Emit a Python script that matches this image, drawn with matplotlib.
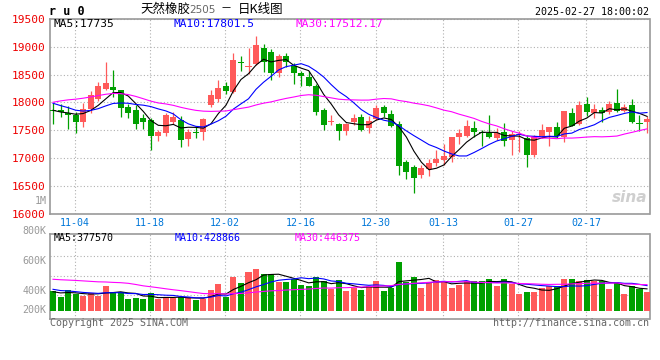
import numpy as np
import pandas as pd
import matplotlib
matplotlib.use('Agg')
import matplotlib.pyplot as plt

# daily candles, 2024-10-30 .. 2025-02-27
opens = [17865, 17860, 17810, 17770, 17650, 17887, 18054, 18238, 18268, 18214,
         17917, 17857, 17714, 17690, 17399, 17452, 17649, 17690, 17345, 17460,
         17470, 17946, 18054, 18286, 18184, 18710, 18640, 18690, 18976, 18910,
         18524, 18839, 18649, 18524, 18464, 18286, 17857, 17655, 17607, 17488,
         17643, 17738, 17530, 17708, 17917, 17786, 17619, 16935, 16834, 16697,
         16798, 16905, 16965, 17024, 17381, 17393, 17542, 17446, 17441, 17351,
         17460, 17328, 17412, 17357, 17060, 17387, 17465, 17548, 17369, 17804,
         17607, 17970, 17804, 17863, 17833, 17982, 17845, 17952, 17625, 17643]
highs = [17980, 17970, 17930, 17830, 17994, 18196, 18375, 18732, 18589, 18220,
         17964, 17946, 17786, 17726, 17500, 17810, 17827, 17762, 17512, 17572,
         17726, 18226, 18405, 18375, 18881, 18839, 18970, 19196, 19047, 18958,
         18869, 18887, 18702, 18571, 18559, 18333, 17905, 17768, 17631, 17631,
         17798, 17798, 17750, 17946, 17946, 17869, 17661, 16965, 16875, 16875,
         16977, 17143, 17250, 17385, 17512, 17690, 17667, 17500, 17768, 17530,
         17635, 17476, 17476, 17417, 17417, 17607, 17555, 17655, 17850, 17893,
         18024, 18101, 17964, 17911, 18024, 18238, 17964, 18060, 17774, 17762]
lows = [17610, 17740, 17520, 17450, 17560, 17810, 18030, 18214, 18095, 17738,
        17720, 17524, 17524, 17143, 17310, 17393, 17619, 17190, 17214, 17363,
        17322, 17917, 18006, 18155, 18173, 18571, 18512, 18672, 18541, 18405,
        18452, 18643, 18333, 18303, 18286, 17768, 17500, 17589, 17322, 17411,
        17589, 17488, 17453, 17690, 17738, 17548, 16697, 16620, 16370, 16631,
        16679, 16858, 16875, 16935, 17250, 17369, 17381, 17215, 17360, 17322,
        17220, 17048, 17100, 16834, 17012, 17357, 17209, 17357, 17286, 17566,
        17595, 17762, 17714, 17655, 17786, 17822, 17822, 17625, 17488, 17447]
closes = [17850, 17830, 17775, 17650, 17887, 18125, 18286, 18357, 18220, 17899,
          17810, 17613, 17649, 17399, 17464, 17768, 17738, 17327, 17464, 17452,
          17697, 18125, 18262, 18202, 18768, 18700, 18645, 19035, 18732, 18524,
          18839, 18720, 18524, 18470, 18303, 17827, 17589, 17661, 17488, 17619,
          17720, 17500, 17667, 17899, 17810, 17578, 16846, 16739, 16631, 16816,
          16905, 16983, 17036, 17381, 17441, 17578, 17470, 17440, 17369, 17441,
          17300, 17429, 17420, 17060, 17387, 17506, 17548, 17387, 17845, 17583,
          17952, 17822, 17881, 17804, 17970, 17845, 17923, 17655, 17615, 17702]
# volume in thousands of lots
volumes = [338, 235, 355, 281, 257, 298, 257, 424, 321, 321,
           201, 218, 201, 304, 196, 218, 218, 235, 235, 184,
           201, 355, 458, 230, 578, 470, 664, 715, 629, 629,
           492, 492, 539, 441, 424, 578, 509, 367, 527, 338,
           394, 355, 424, 509, 338, 384, 840, 487, 573, 394,
           480, 527, 509, 394, 441, 509, 509, 509, 544, 424,
           544, 453, 286, 321, 321, 394, 424, 424, 544, 544,
           509, 527, 509, 509, 372, 470, 286, 424, 372, 321]

# earlier sessions (off-screen), only used to seed the moving averages
prev_closes = [17100, 17200, 17300, 17350, 17450, 17550, 17650, 17750, 18030,
               18300, 18600, 18900, 18700, 18450, 18300, 18500, 18400, 18350, 18200, 18130,
               18250, 18150, 18100, 18050, 18005, 17980, 17860, 17770, 17825]
prev_volumes = [480, 520, 460, 500, 540, 490, 510, 530, 470, 520,
                820, 900, 780, 700, 760, 720, 680, 740, 700, 680,
                450, 420, 400, 390, 380, 340, 320, 310, 322]

tick_idx = [3, 13, 23, 33, 43, 52, 62, 71]
tick_labels = ['11-04', '11-18', '12-02', '12-16', '12-30', '01-13', '01-27', '02-17']
price_ticks = [16000, 16500, 17000, 17500, 18000, 18500, 19000, 19500]
vol_labels = ['800K', '600K', '400K', '200K']

RED = '#ff5a5a'
GREEN = '#00a000'
GRID = '#b0b0b0'
FRAME = '#999999'
MONO = 'DejaVu Sans Mono'
CJK = ['Noto Sans CJK SC', 'DejaVu Sans']

o = np.array(opens, float)
h = np.array(highs, float)
l = np.array(lows, float)
c = np.array(closes, float)
v = np.array(volumes, float) * 1000
n = len(c)
x = np.arange(n)
cols = np.where(c >= o, RED, GREEN)

cs = pd.Series(prev_closes + closes, dtype=float)
ma = {k: cs.rolling(k).mean().values[-n:] for k in (5, 10, 30)}
vs = pd.Series(prev_volumes + volumes, dtype=float) * 1000
vma = {k: vs.rolling(k).mean().values[-n:] for k in (5, 10, 30)}
ma_cols = {5: 'black', 10: '#0000ff', 30: '#ff00ff'}

W, H = 660, 360
fig = plt.figure(figsize=(6.6, 3.6), dpi=100)
fig.patch.set_facecolor('white')

def fx(px):
    return px / W

def fy(py):
    return 1 - py / H

L, R = 50, 649.5
ax = fig.add_axes([fx(L), fy(213.5), fx(R) - fx(L), fy(19) - fy(213.5)])
axv = fig.add_axes([fx(L), fy(319), fx(R) - fx(L), fy(234.3) - fy(319)])

# price panel
ax.vlines(x, l, h, colors=cols, lw=0.9, zorder=3)
ax.bar(x, np.maximum(np.abs(c - o), 18), bottom=np.minimum(o, c), width=0.8,
       color=cols, lw=0, zorder=4)
for k in (5, 10, 30):
    ax.plot(x, ma[k], color=ma_cols[k], lw=0.8, zorder=5)

ax.set_xlim(-0.4, 79.33)
ax.set_ylim(16000, 19500)
ax.set_yticks(price_ticks)
ax.set_yticklabels([str(t) for t in price_ticks], color='#ee0000', family=MONO, fontsize=8)
ax.set_xticks(np.array(tick_idx) - 0.1)
ax.set_xticklabels(tick_labels, color='#0077d9', family=MONO, fontsize=7.2)
ax.tick_params(axis='both', length=0)
ax.tick_params(axis='y', pad=3)
ax.tick_params(axis='x', pad=3)
ax.grid(True, ls=(0, (1, 2)), color=GRID, lw=0.8, zorder=0)

# volume panel
axv.bar(x, v, width=0.8, color=cols, lw=0, zorder=3)
for k in (5, 10, 30):
    axv.plot(x, vma[k], color=ma_cols[k], lw=0.8, zorder=5)
axv.set_xlim(-0.4, 79.33)
axv.set_ylim(-142000, 1310000)
axv.set_xticks(np.array(tick_idx) - 0.1)
axv.set_xticklabels([])
axv.set_yticks([])
axv.tick_params(axis='both', length=0)
axv.grid(True, axis='x', ls=(0, (1, 2)), color=GRID, lw=0.8, zorder=0)
for ypx in (255.5, 275.5, 295.4):
    f = (319 - ypx) / (319 - 234.3)
    axv.plot([0, 1], [f, f], transform=axv.transAxes, ls=(0, (1, 2)), color=GRID, lw=0.8, zorder=0)

for a in (ax, axv):
    a.set_facecolor('white')
    for s in a.spines.values():
        s.set_color(FRAME)
        s.set_linewidth(1.2)

# texts
fig.text(fx(49), fy(11.5), 'r u 0', family=MONO, fontweight='bold', fontsize=8.5, va='center', ha='left')
fig.text(fx(140), fy(9.5), '天然橡胶', family=CJK, fontsize=9, va='center', ha='left')
fig.text(fx(189), fy(10), '2505', family='DejaVu Sans', fontsize=7.5, color='#666666', va='center', ha='left')
fig.text(fx(226), fy(9.5), '－', family=CJK, fontsize=8, va='center', ha='center')
fig.text(fx(238), fy(9.5), '日K线图', family=CJK, fontsize=9, va='center', ha='left')
fig.text(fx(649), fy(11.7), '2025-02-27 18:00:02', family=MONO, fontsize=7.2, va='center', ha='right')

fig.text(fx(54), fy(24), 'MA5:17735', family=MONO, fontsize=8, color='black', va='center')
fig.text(fx(173), fy(24), 'MA10:17801.5', family=MONO, fontsize=8, color='#0000ff', va='center')
fig.text(fx(295), fy(24), 'MA30:17512.17', family=MONO, fontsize=8, color='#ff00ff', va='center')

fig.text(fx(54), fy(238), 'MA5:377570', family=MONO, fontsize=7.2, color='black', va='center')
fig.text(fx(175), fy(238), 'MA10:428866', family=MONO, fontsize=7.2, color='#0000ff', va='center')
fig.text(fx(295), fy(238), 'MA30:446375', family=MONO, fontsize=7.2, color='#ff00ff', va='center')

for lab, ypx in zip(vol_labels, (231, 261, 290.7, 310)):
    fig.text(fx(46.5), fy(ypx), lab, family=MONO, fontsize=7.2, color='#999999', va='center', ha='right')
fig.text(fx(46.5), fy(201), '1M', family=MONO, fontsize=7.2, color='#999999', va='center', ha='right')

fig.text(fx(50), fy(323), 'Copyright 2025 SINA.COM', family=MONO, fontsize=7.2, color='#666666', va='center')
fig.text(fx(649), fy(323), 'http://finance.sina.com.cn', family=MONO, fontsize=7.2, color='#666666', va='center', ha='right')

fig.text(fx(647), fy(197), 'sina', family='DejaVu Sans', fontsize=11, fontweight='bold', style='italic',
         color='#cfcfcf', va='center', ha='right')

fig.savefig('out.png', dpi=100, facecolor='white')
